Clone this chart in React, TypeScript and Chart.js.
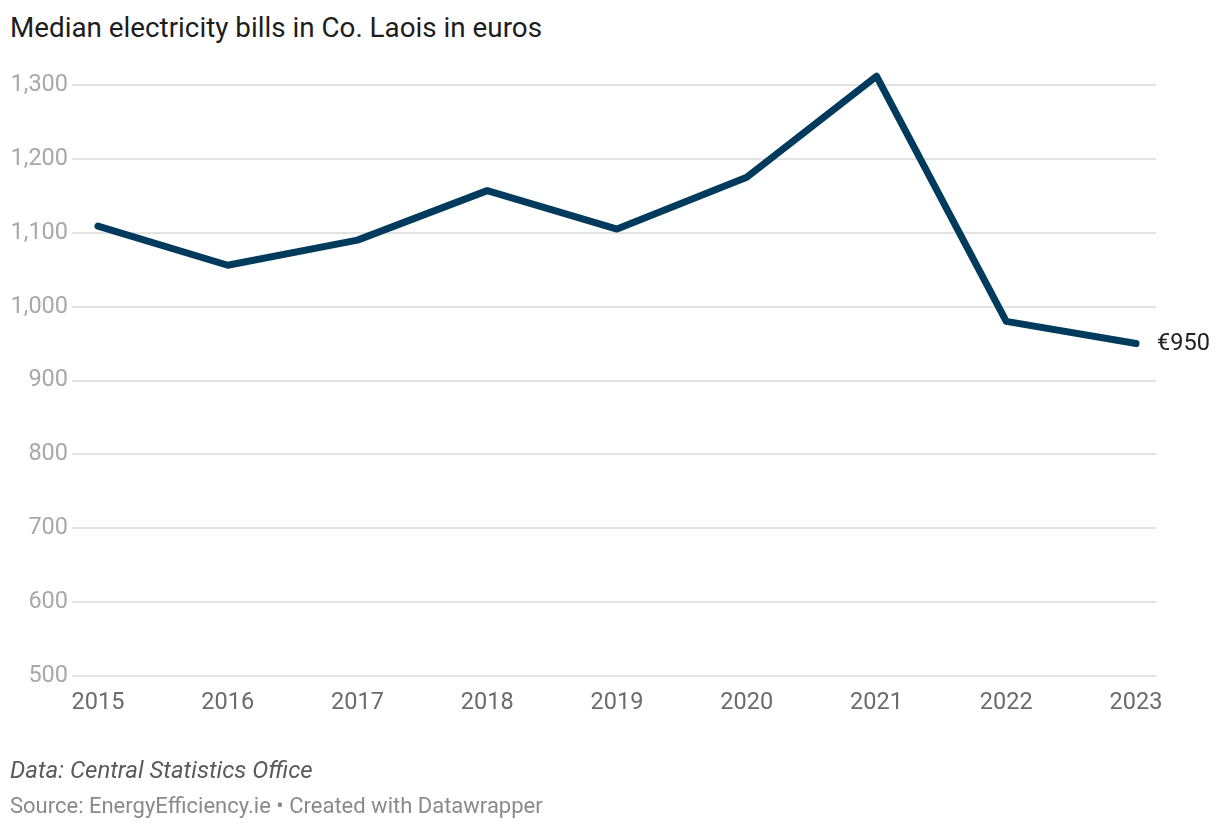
import React, { useEffect, useRef } from "react";
import { Chart, registerables } from "chart.js";

Chart.register(...registerables);

const years = [2015, 2016, 2017, 2018, 2019, 2020, 2021, 2022, 2023];
const bills = [1109, 1056, 1090, 1157, 1105, 1175, 1312, 980, 950];
const yTicks = [500, 600, 700, 800, 900, 1000, 1100, 1200, 1300];

const FONT = "Roboto, 'Noto Sans', sans-serif";

const endLabel = {
  id: "endLabel",
  afterDatasetsDraw(chart: any) {
    const meta = chart.getDatasetMeta(0);
    const pt = meta.data[meta.data.length - 1];
    if (!pt) return;
    const ctx = chart.ctx;
    ctx.save();
    ctx.font = `23.5px ${FONT}`;
    ctx.fillStyle = "#222222";
    ctx.textAlign = "left";
    ctx.textBaseline = "middle";
    ctx.fillText(`€${bills[bills.length - 1]}`, pt.x + 21, pt.y + 1);
    ctx.restore();
  },
};

export default function App() {
  const ref = useRef<HTMLCanvasElement>(null);
  useEffect(() => {
    if (!ref.current) return;
    const chart = new Chart(ref.current, {
      type: "line",
      data: {
        datasets: [
          {
            data: years.map((y, i) => ({ x: y, y: bills[i] })),
            borderColor: "#003a5d",
            borderWidth: 7,
            pointRadius: 0,
            tension: 0,
            borderCapStyle: "round",
            borderJoinStyle: "round",
            clip: false as any,
          },
        ],
      },
      options: {
        responsive: false,
        animation: false,
        layout: { padding: { top: 85, right: 64, bottom: 94, left: 0 } },
        plugins: { legend: { display: false }, tooltip: { enabled: false }, title: { display: false } },
        scales: {
          x: {
            type: "linear",
            min: 2014.8,
            max: 2023.154,
            grid: { display: false, drawTicks: false },
            border: { display: false },
            afterBuildTicks: (s: any) => {
              s.ticks = years.map((v) => ({ value: v }));
            },
            afterFit: (s: any) => {
              s.height = 60;
            },
            ticks: {
              autoSkip: false,
              maxRotation: 0,
              padding: 13,
              color: "#6b6b6b",
              font: { family: FONT, size: 23.5 },
              callback: (v: any) => String(v),
            },
          },
          y: {
            min: 500,
            max: 1300,
            grid: { color: "#e3e3e3", lineWidth: 2, drawTicks: false },
            border: { display: false },
            afterBuildTicks: (s: any) => {
              s.ticks = yTicks.map((v) => ({ value: v }));
            },
            afterFit: (s: any) => {
              s.width = 72;
            },
            ticks: {
              padding: 4,
              color: "#a8a8a8",
              font: { family: FONT, size: 23.5 },
              callback: (v: any) => Number(v).toLocaleString("en-US"),
            },
          },
        },
      },
      plugins: [endLabel],
    });
    return () => chart.destroy();
  }, []);

  return (
    <div style={{ position: "absolute", left: 0, top: 0, width: 1220, height: 830, background: "#fff", fontFamily: FONT }}>
      <div style={{ position: "absolute", left: 10, top: 11, fontSize: 27.8, lineHeight: "34px", color: "#1d1d1d", whiteSpace: "nowrap" }}>
        Median electricity bills in Co. Laois in euros
      </div>
      <canvas ref={ref} width={1220} height={830} style={{ position: "absolute", left: 0, top: 0, width: 1220, height: 830 }} />
      <div style={{ position: "absolute", left: 10, top: 756, fontSize: 24, lineHeight: "28px", fontStyle: "italic", color: "#5a5a5a", whiteSpace: "nowrap" }}>
        Data: Central Statistics Office
      </div>
      <div style={{ position: "absolute", left: 10, top: 793, fontSize: 22, lineHeight: "26px", color: "#8a8a8a", whiteSpace: "nowrap" }}>
        Source: EnergyEfficiency.ie • Created with Datawrapper
      </div>
    </div>
  );
}
